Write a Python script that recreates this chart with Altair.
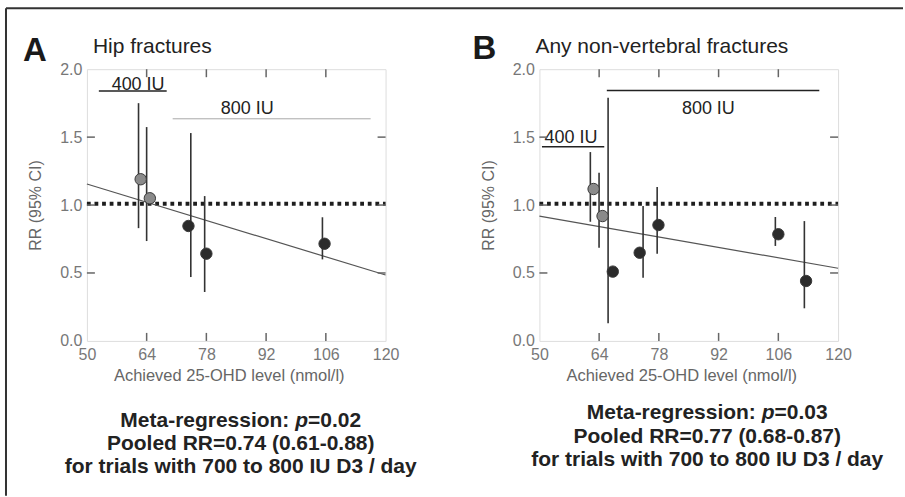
import altair as alt
import pandas as pd

FONT = "Liberation Sans"
W, H = 299, 272

X_DOMAIN = [50, 120]
Y_DOMAIN = [0, 2]
X_TICKS = [50, 64, 78, 92, 106, 120]
Y_TICKS = [0.0, 0.5, 1.0, 1.5, 2.0]
INNER_X_TICKS = [64, 78, 92, 106]
INNER_Y_TICKS = [0.5, 1.0, 1.5]
REF_Y = 1.01
X_TITLE = "Achieved 25-OHD level (nmol/l)"
Y_TITLE = "RR (95% CI)"

# ---- Panel A : Hip fractures ----
A_LETTER = "A"
A_TITLE = "Hip fractures"
A_PT_X = [62.6, 64.75, 73.8, 78.0, 105.7]
A_PT_Y = [1.19, 1.05, 0.846, 0.642, 0.715]
A_DOSE = ["400", "400", "800", "800", "800"]
A_CI_X = [62.1, 64.0, 74.35, 77.6, 105.2]
A_CI_LO = [0.83, 0.735, 0.47, 0.36, 0.60]
A_CI_HI = [1.75, 1.574, 1.53, 1.066, 0.91]
A_REG_X = [50, 120]
A_REG_Y = [1.155, 0.485]
A_BR_X1 = [52.8, 70.1]
A_BR_X2 = [68.7, 116.5]
A_BR_Y = [1.84, 1.635]
A_BR_COL = ["#222222", "#a8a8a8"]
A_BR_W = [1.5, 1.0]
A_LAB = ["400 IU", "800 IU"]
A_LAB_X = [62.0, 87.6]
A_LAB_Y = [1.85, 1.67]
A_P = "0.02"
A_POOLED = "Pooled RR=0.74 (0.61-0.88)"
A_TRIALS = "for trials with 700 to 800 IU D3 / day"

# ---- Panel B : Any non-vertebral fractures ----
B_LETTER = "B"
B_TITLE = "Any non-vertebral fractures"
B_PT_X = [62.7, 64.8, 67.2, 73.5, 77.9, 106.0, 112.5]
B_PT_Y = [1.118, 0.919, 0.51, 0.649, 0.853, 0.785, 0.441]
B_DOSE = ["400", "400", "800", "800", "800", "800", "800"]
B_CI_X = [61.94, 63.98, 66.1, 74.3, 77.6, 105.3, 112.1]
B_CI_LO = [0.877, 0.686, 0.13, 0.465, 0.642, 0.699, 0.24]
B_CI_HI = [1.39, 1.237, 1.79, 0.993, 1.132, 0.912, 0.882]
B_REG_X = [50, 120]
B_REG_Y = [0.919, 0.535]
B_BR_X1 = [50.6, 65.8]
B_BR_X2 = [65.2, 115.6]
B_BR_Y = [1.43, 1.843]
B_BR_COL = ["#222222", "#222222"]
B_BR_W = [1.5, 1.5]
B_LAB = ["400 IU", "800 IU"]
B_LAB_X = [57.4, 89.6]
B_LAB_Y = [1.458, 1.667]
B_P = "0.03"
B_POOLED = "Pooled RR=0.77 (0.68-0.87)"
B_TRIALS = "for trials with 700 to 800 IU D3 / day"

ONE = pd.DataFrame({"k": [0]})

# approximate bold sans advance widths (em) for composing the mixed-style line
BOLD_W = {'M': .833, 'e': .556, 't': .333, 'a': .556, '-': .333, 'r': .389, 'g': .611,
          's': .556, 'i': .278, 'o': .611, 'n': .611, ':': .333, ' ': .278, 'p': .611,
          '=': .584, '0': .556, '.': .278, '1': .556, '2': .556, '3': .556}


def tw(s, size):
    return sum(BOLD_W.get(c, .556) for c in s) * size


def txt(s, x, y, size, weight="normal", style="normal", align="left", color="#222222"):
    return alt.Chart(ONE).mark_text(
        text=s, align=align, baseline="alphabetic", fontSize=size, fontWeight=weight,
        fontStyle=style, font=FONT, color=color
    ).encode(x=alt.value(x), y=alt.value(y))


def panel(letter, title, letter_pos, title_pos, pt_x, pt_y, dose, ci_x, lo, hi, reg_x, reg_y,
          br_x1, br_x2, br_y, br_col, br_w, lab, lab_x, lab_y, pval, pooled, trials,
          text_cx, text_y, border=False):
    xs = alt.Scale(domain=X_DOMAIN, nice=False, zero=False)
    ys = alt.Scale(domain=Y_DOMAIN, nice=False, zero=False)
    xa = alt.Axis(values=X_TICKS, format="d", ticks=False, domain=False, grid=False,
                  labelFlush=False, labelFontSize=16, labelColor="#777777", labelFont=FONT,
                  labelPadding=6, title=X_TITLE, titleFontSize=16.5, titleColor="#666666",
                  titleFont=FONT, titleFontWeight="normal", titleX=142, titleY=40,
                  titleAlign="center", titleBaseline="alphabetic")
    ya = alt.Axis(values=Y_TICKS, format=".1f", ticks=False, domain=False, grid=False,
                  labelFlush=False, labelFontSize=16, labelColor="#777777", labelFont=FONT,
                  labelPadding=5, title=Y_TITLE, titleFontSize=16, titleColor="#666666",
                  titleFont=FONT, titleFontWeight="normal", titleX=-51, titleY=H / 2,
                  titleAngle=270, titleAlign="center", titleBaseline="middle")
    X = alt.X("x:Q", scale=xs, axis=xa)
    Y = alt.Y("y:Q", scale=ys, axis=ya)

    ref = alt.Chart(pd.DataFrame({"x": [X_DOMAIN[0]], "x2": [X_DOMAIN[1]], "y": [REF_Y]})).mark_rule(
        color="#1e1e1e", strokeWidth=4, strokeDash=[3.8, 3.8]
    ).encode(x=X, x2="x2:Q", y=Y)

    reg = alt.Chart(pd.DataFrame({"x": reg_x, "y": reg_y})).mark_line(
        color="#555555", strokeWidth=1.2
    ).encode(x=X, y=Y)

    ci = alt.Chart(pd.DataFrame({"x": ci_x, "y": lo, "y2": hi})).mark_rule(
        color="#333333", strokeWidth=1.6
    ).encode(x=X, y=Y, y2="y2:Q")

    pts = alt.Chart(pd.DataFrame({"x": pt_x, "y": pt_y, "dose": dose})).mark_circle(
        size=130, opacity=1, stroke="#3a3a3a", strokeWidth=1
    ).encode(x=X, y=Y, color=alt.Color("dose:N", scale=alt.Scale(domain=["400", "800"],
                                                              range=["#8a8a8a", "#2b2b2b"]),
                                       legend=None))

    br = alt.Chart(pd.DataFrame({"x": br_x1, "x2": br_x2, "y": br_y, "c": br_col, "w": br_w})).mark_rule().encode(
        x=X, x2="x2:Q", y=Y, color=alt.Color("c:N", scale=None),
        strokeWidth=alt.StrokeWidth("w:Q", scale=None))

    labs = alt.Chart(pd.DataFrame({"x": lab_x, "y": lab_y, "t": lab})).mark_text(
        align="center", baseline="alphabetic", fontSize=18, font=FONT, color="#222222"
    ).encode(x=X, y=Y, text="t:N")

    tick_df_x = pd.DataFrame({"x": INNER_X_TICKS})
    tick_df_y = pd.DataFrame({"y": INNER_Y_TICKS})
    tk = dict(color="#666666", strokeWidth=1.5)
    t_top = alt.Chart(tick_df_x).mark_rule(**tk).encode(x=X, y=alt.value(0), y2=alt.value(8))
    t_bot = alt.Chart(tick_df_x).mark_rule(**tk).encode(x=X, y=alt.value(H), y2=alt.value(H - 8))
    t_left = alt.Chart(tick_df_y).mark_rule(**tk).encode(y=Y, x=alt.value(0), x2=alt.value(8))
    t_right = alt.Chart(tick_df_y).mark_rule(**tk).encode(y=Y, x=alt.value(W), x2=alt.value(W - 8))

    layers = [ref, reg, ci, pts, br, labs, t_top, t_bot, t_left, t_right]

    layers.append(txt(letter, letter_pos[0], letter_pos[1], 33, weight="bold", color="#1a1a1a"))
    layers.append(txt(title, title_pos[0], title_pos[1], 21, color="#222222"))

    # bottom annotation
    size = 21
    seg1 = "Meta-regression: "
    seg2 = "p"
    seg3 = "=" + pval
    total = tw(seg1, size) + tw(seg2, size) + tw(seg3, size)
    x0 = text_cx - total / 2
    layers.append(txt("Meta-regression:", x0, text_y[0], size, weight="bold"))
    x1 = x0 + tw(seg1, size)
    layers.append(txt(seg2, x1, text_y[0], size, weight="bold", style="italic"))
    x2 = x1 + tw(seg2, size)
    layers.append(txt(seg3, x2, text_y[0], size, weight="bold"))
    layers.append(txt(pooled, text_cx, text_y[1], size, weight="bold", align="center"))
    layers.append(txt(trials, text_cx, text_y[2], size, weight="bold", align="center"))

    if border:
        layers.append(alt.Chart(ONE).mark_rule(color="#333333", strokeWidth=2).encode(
            x=alt.value(-81), x2=alt.value(817), y=alt.value(-61)))
        layers.append(alt.Chart(ONE).mark_rule(color="#333333", strokeWidth=2).encode(
            x=alt.value(-81), y=alt.value(-61), y2=alt.value(427)))

    return alt.layer(*layers).properties(width=W, height=H)


pA = panel(A_LETTER, A_TITLE, (-64, -8), (6, -16), A_PT_X, A_PT_Y, A_DOSE, A_CI_X, A_CI_LO, A_CI_HI,
           A_REG_X, A_REG_Y, A_BR_X1, A_BR_X2, A_BR_Y, A_BR_COL, A_BR_W, A_LAB, A_LAB_X, A_LAB_Y,
           A_P, A_POOLED, A_TRIALS, 154, [358, 381, 404], border=True)
pB = panel(B_LETTER, B_TITLE, (-67, -10), (-4, -16), B_PT_X, B_PT_Y, B_DOSE, B_CI_X, B_CI_LO, B_CI_HI,
           B_REG_X, B_REG_Y, B_BR_X1, B_BR_X2, B_BR_Y, B_BR_COL, B_BR_W, B_LAB, B_LAB_X, B_LAB_Y,
           B_P, B_POOLED, B_TRIALS, 168, [350, 374, 397])

chart = alt.hconcat(pA, pB, spacing=154, bounds="flush", padding={"left": 4, "top": 6, "right": 0, "bottom": 0}).configure_view(
    stroke="#8a8a8a", strokeWidth=2
).configure(background="white")

chart.save("out.html", embed_options={"renderer": "svg", "actions": False})
